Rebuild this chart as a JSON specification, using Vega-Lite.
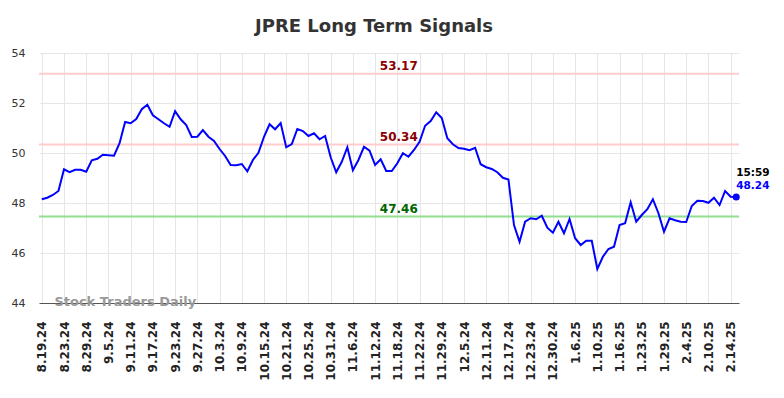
{
  "$schema": "https://vega.github.io/schema/vega-lite/v6.json",
  "autosize": "none",
  "width": 700,
  "height": 250,
  "padding": {"left": 39, "top": 53, "right": 45, "bottom": 95},
  "background": "white",
  "title": {"text": "JPRE Long Term Signals", "anchor": "middle", "dx": -15, "offset": 11, "fontSize": 18, "font": "DejaVu Sans", "fontWeight": "bold", "color": "#333333"},
  "config": {"view": {"stroke": null}, "font": "DejaVu Sans"},
  "resolve": {"scale": {"color": "independent"}},
  "datasets": {
    "prices": [
      {"date": "8.19.24", "value": 48.15}, {"date": "8.20.24", "value": 48.21}, {"date": "8.21.24", "value": 48.32}, {"date": "8.22.24", "value": 48.48},
      {"date": "8.23.24", "value": 49.35}, {"date": "8.26.24", "value": 49.23}, {"date": "8.27.24", "value": 49.33}, {"date": "8.28.24", "value": 49.33},
      {"date": "8.29.24", "value": 49.25}, {"date": "8.30.24", "value": 49.71}, {"date": "9.3.24", "value": 49.77}, {"date": "9.4.24", "value": 49.93},
      {"date": "9.5.24", "value": 49.91}, {"date": "9.6.24", "value": 49.89}, {"date": "9.9.24", "value": 50.39}, {"date": "9.10.24", "value": 51.24},
      {"date": "9.11.24", "value": 51.19}, {"date": "9.12.24", "value": 51.36}, {"date": "9.13.24", "value": 51.75}, {"date": "9.16.24", "value": 51.93},
      {"date": "9.17.24", "value": 51.51}, {"date": "9.18.24", "value": 51.35}, {"date": "9.19.24", "value": 51.19}, {"date": "9.20.24", "value": 51.05},
      {"date": "9.23.24", "value": 51.67}, {"date": "9.24.24", "value": 51.35}, {"date": "9.25.24", "value": 51.12}, {"date": "9.26.24", "value": 50.64},
      {"date": "9.27.24", "value": 50.65}, {"date": "9.30.24", "value": 50.92}, {"date": "10.1.24", "value": 50.65}, {"date": "10.2.24", "value": 50.48},
      {"date": "10.3.24", "value": 50.16}, {"date": "10.4.24", "value": 49.88}, {"date": "10.7.24", "value": 49.52}, {"date": "10.8.24", "value": 49.51},
      {"date": "10.9.24", "value": 49.56}, {"date": "10.10.24", "value": 49.27}, {"date": "10.11.24", "value": 49.72}, {"date": "10.14.24", "value": 50.01},
      {"date": "10.15.24", "value": 50.65}, {"date": "10.16.24", "value": 51.15}, {"date": "10.17.24", "value": 50.95}, {"date": "10.18.24", "value": 51.2},
      {"date": "10.21.24", "value": 50.23}, {"date": "10.22.24", "value": 50.36}, {"date": "10.23.24", "value": 50.96}, {"date": "10.24.24", "value": 50.88},
      {"date": "10.25.24", "value": 50.68}, {"date": "10.28.24", "value": 50.79}, {"date": "10.29.24", "value": 50.55}, {"date": "10.30.24", "value": 50.68},
      {"date": "10.31.24", "value": 49.83}, {"date": "11.1.24", "value": 49.23}, {"date": "11.4.24", "value": 49.65}, {"date": "11.5.24", "value": 50.23},
      {"date": "11.6.24", "value": 49.31}, {"date": "11.7.24", "value": 49.72}, {"date": "11.8.24", "value": 50.25}, {"date": "11.11.24", "value": 50.09},
      {"date": "11.12.24", "value": 49.52}, {"date": "11.13.24", "value": 49.75}, {"date": "11.14.24", "value": 49.28}, {"date": "11.15.24", "value": 49.28},
      {"date": "11.18.24", "value": 49.59}, {"date": "11.19.24", "value": 49.99}, {"date": "11.20.24", "value": 49.85}, {"date": "11.21.24", "value": 50.12},
      {"date": "11.22.24", "value": 50.45}, {"date": "11.25.24", "value": 51.09}, {"date": "11.26.24", "value": 51.28}, {"date": "11.27.24", "value": 51.63},
      {"date": "11.29.24", "value": 51.4}, {"date": "12.2.24", "value": 50.59}, {"date": "12.3.24", "value": 50.35}, {"date": "12.4.24", "value": 50.2},
      {"date": "12.5.24", "value": 50.17}, {"date": "12.6.24", "value": 50.11}, {"date": "12.9.24", "value": 50.21}, {"date": "12.10.24", "value": 49.55},
      {"date": "12.11.24", "value": 49.43}, {"date": "12.12.24", "value": 49.36}, {"date": "12.13.24", "value": 49.23}, {"date": "12.16.24", "value": 49.01},
      {"date": "12.17.24", "value": 48.94}, {"date": "12.18.24", "value": 47.12}, {"date": "12.19.24", "value": 46.45}, {"date": "12.20.24", "value": 47.25},
      {"date": "12.23.24", "value": 47.39}, {"date": "12.24.24", "value": 47.35}, {"date": "12.26.24", "value": 47.49}, {"date": "12.27.24", "value": 47.01},
      {"date": "12.30.24", "value": 46.81}, {"date": "12.31.24", "value": 47.25}, {"date": "1.2.25", "value": 46.79}, {"date": "1.3.25", "value": 47.36},
      {"date": "1.6.25", "value": 46.59}, {"date": "1.7.25", "value": 46.32}, {"date": "1.8.25", "value": 46.49}, {"date": "1.9.25", "value": 46.49},
      {"date": "1.10.25", "value": 45.36}, {"date": "1.13.25", "value": 45.85}, {"date": "1.14.25", "value": 46.16}, {"date": "1.15.25", "value": 46.25},
      {"date": "1.16.25", "value": 47.12}, {"date": "1.17.25", "value": 47.19}, {"date": "1.21.25", "value": 48.03}, {"date": "1.22.25", "value": 47.25},
      {"date": "1.23.25", "value": 47.52}, {"date": "1.24.25", "value": 47.75}, {"date": "1.27.25", "value": 48.15}, {"date": "1.28.25", "value": 47.59},
      {"date": "1.29.25", "value": 46.85}, {"date": "1.30.25", "value": 47.39}, {"date": "1.31.25", "value": 47.31}, {"date": "2.3.25", "value": 47.25},
      {"date": "2.4.25", "value": 47.24}, {"date": "2.5.25", "value": 47.88}, {"date": "2.6.25", "value": 48.09}, {"date": "2.7.25", "value": 48.08},
      {"date": "2.10.25", "value": 48.01}, {"date": "2.11.25", "value": 48.21}, {"date": "2.12.25", "value": 47.92}, {"date": "2.13.25", "value": 48.48},
      {"date": "2.14.25", "value": 48.25}, {"date": "2.18.25", "value": 48.24, "time": "15:59"}
    ],
    "levels": [
      {"level": 53.17, "kind": "resistance", "label": "53.17"},
      {"level": 50.34, "kind": "resistance", "label": "50.34"},
      {"level": 47.46, "kind": "support", "label": "47.46"}
    ],
    "watermark": [{"text": "Stock Traders Daily"}]
  },
  "layer": [
    {
      "data": {"name": "levels"},
      "mark": {"type": "rule", "strokeWidth": 2},
      "encoding": {
        "y": {"field": "level", "type": "quantitative"},
        "color": {"field": "kind", "type": "nominal", "legend": null, "scale": {"domain": ["resistance", "support"], "range": ["#ffcccc", "#90e090"]}}
      }
    },
    {
      "data": {"name": "prices"},
      "mark": {"type": "line", "color": "#0000ff", "strokeWidth": 2},
      "encoding": {
        "x": {"field": "date", "type": "ordinal", "sort": null,
          "scale": {"type": "point", "padding": 0.5, "domain": ["8.19.24","8.20.24","8.21.24","8.22.24","8.23.24","8.26.24","8.27.24","8.28.24","8.29.24","8.30.24","9.3.24","9.4.24","9.5.24","9.6.24","9.9.24","9.10.24","9.11.24","9.12.24","9.13.24","9.16.24","9.17.24","9.18.24","9.19.24","9.20.24","9.23.24","9.24.24","9.25.24","9.26.24","9.27.24","9.30.24","10.1.24","10.2.24","10.3.24","10.4.24","10.7.24","10.8.24","10.9.24","10.10.24","10.11.24","10.14.24","10.15.24","10.16.24","10.17.24","10.18.24","10.21.24","10.22.24","10.23.24","10.24.24","10.25.24","10.28.24","10.29.24","10.30.24","10.31.24","11.1.24","11.4.24","11.5.24","11.6.24","11.7.24","11.8.24","11.11.24","11.12.24","11.13.24","11.14.24","11.15.24","11.18.24","11.19.24","11.20.24","11.21.24","11.22.24","11.25.24","11.26.24","11.27.24","11.29.24","12.2.24","12.3.24","12.4.24","12.5.24","12.6.24","12.9.24","12.10.24","12.11.24","12.12.24","12.13.24","12.16.24","12.17.24","12.18.24","12.19.24","12.20.24","12.23.24","12.24.24","12.26.24","12.27.24","12.30.24","12.31.24","1.2.25","1.3.25","1.6.25","1.7.25","1.8.25","1.9.25","1.10.25","1.13.25","1.14.25","1.15.25","1.16.25","1.17.25","1.21.25","1.22.25","1.23.25","1.24.25","1.27.25","1.28.25","1.29.25","1.30.25","1.31.25","2.3.25","2.4.25","2.5.25","2.6.25","2.7.25","2.10.25","2.11.25","2.12.25","2.13.25","2.14.25","2.18.25"]},
          "axis": {"title": null, "values": ["8.19.24","8.23.24","8.29.24","9.5.24","9.11.24","9.17.24","9.23.24","9.27.24","10.3.24","10.9.24","10.15.24","10.21.24","10.25.24","10.31.24","11.6.24","11.12.24","11.18.24","11.22.24","11.29.24","12.5.24","12.11.24","12.17.24","12.23.24","12.30.24","1.6.25","1.10.25","1.16.25","1.23.25","1.29.25","2.4.25","2.10.25","2.14.25"],
            "labelAngle": -90, "labelFont": "DejaVu Sans", "labelFontWeight": "bold", "labelFontSize": 12, "labelColor": "#222222", "ticks": false, "labelPadding": 18,
            "domain": true, "domainColor": "#555555", "grid": true, "gridColor": "#e6e6e6"}},
        "y": {"field": "value", "type": "quantitative", "scale": {"domain": [44, 54], "nice": false, "zero": false},
          "axis": {"title": null, "values": [44, 46, 48, 50, 52, 54], "domain": false, "ticks": false, "labelPadding": 14, "labelFont": "DejaVu Sans", "labelFontSize": 11, "labelColor": "#333333", "grid": true, "gridColor": "#e6e6e6"}}
      }
    },
    {
      "data": {"name": "levels"},
      "mark": {"type": "text", "font": "DejaVu Sans", "fontWeight": "bold", "fontSize": 12, "baseline": "middle", "dy": -8, "dx": 1.5},
      "encoding": {
        "x": {"datum": "11.18.24", "type": "ordinal"},
        "y": {"field": "level", "type": "quantitative"},
        "text": {"field": "label"},
        "color": {"field": "kind", "type": "nominal", "legend": null, "scale": {"domain": ["resistance", "support"], "range": ["#8b0000", "#006400"]}}
      }
    },
    {
      "data": {"name": "prices"},
      "transform": [{"filter": "datum.date == '2.18.25'"}],
      "layer": [
        {"mark": {"type": "point", "filled": true, "size": 50, "color": "#0000ff", "opacity": 1},
          "encoding": {"x": {"field": "date", "type": "ordinal"}, "y": {"field": "value", "type": "quantitative"}}},
        {"mark": {"type": "text", "align": "left", "baseline": "middle", "dy": -24, "font": "DejaVu Sans", "fontWeight": "bold", "fontSize": 10.5, "color": "#000000"},
          "encoding": {"x": {"field": "date", "type": "ordinal"}, "y": {"field": "value", "type": "quantitative"}, "text": {"field": "time"}}},
        {"mark": {"type": "text", "align": "left", "baseline": "middle", "dy": -11, "font": "DejaVu Sans", "fontWeight": "bold", "fontSize": 10.5, "color": "#0000ff"},
          "encoding": {"x": {"field": "date", "type": "ordinal"}, "y": {"field": "value", "type": "quantitative"}, "text": {"field": "value", "format": ".2f"}}}
      ]
    },
    {
      "data": {"name": "watermark"},
      "mark": {"type": "text", "align": "left", "baseline": "middle", "dx": 1.5, "dy": -1, "font": "DejaVu Sans", "fontWeight": "bold", "fontSize": 13, "color": "#999999"},
      "encoding": {"x": {"datum": "8.21.24", "type": "ordinal"}, "y": {"datum": 44, "type": "quantitative"}, "text": {"field": "text"}}
    }
  ]
}
